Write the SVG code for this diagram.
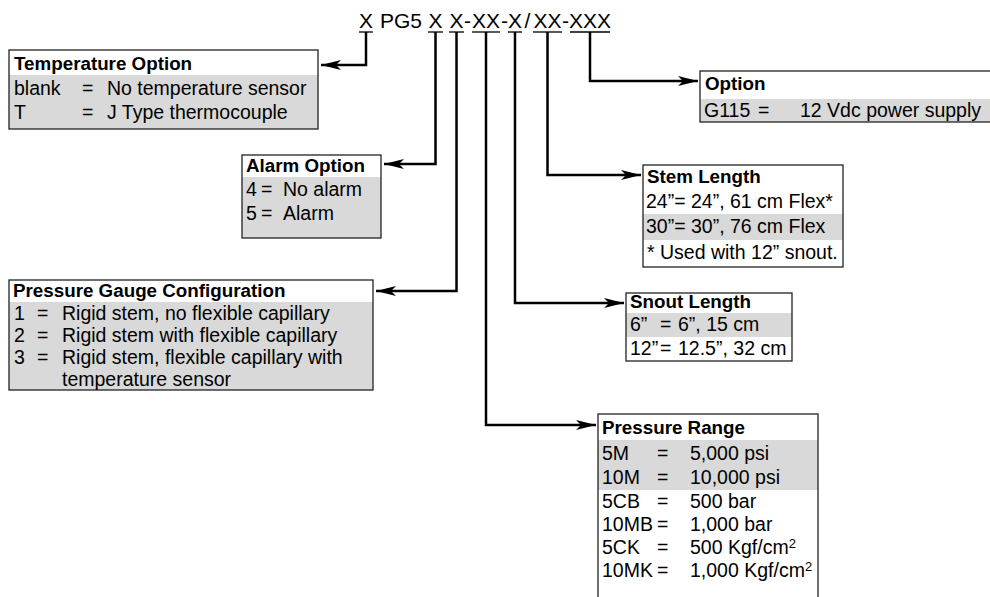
<svg xmlns="http://www.w3.org/2000/svg" width="990" height="597" viewBox="0 0 990 597">
<defs>
<marker id="ah" viewBox="0 0 20 10" markerWidth="20" markerHeight="10" refX="20" refY="5" orient="auto" markerUnits="userSpaceOnUse"><path d="M0,0 L20,5 L0,10 L5,5 z" fill="#000"/></marker>
</defs>
<style>
text{font-family:"Liberation Sans",Arial,sans-serif;font-size:19.5px;fill:#000}
.h{font-weight:bold;font-size:18.8px}
.t{font-size:21px}
.bg{fill:#fff}
.g{fill:#d9d9d9}
.bd{fill:none;stroke:#222;stroke-width:1.3}
.c{fill:none;stroke:#000;stroke-width:2.5;marker-end:url(#ah)}
.u{stroke:#000;stroke-width:1.3}
.sup{font-size:13px}
</style>
<g id="code">
<text class="t" y="28" text-anchor="middle"><tspan x="366">X</tspan></text>
<text class="t" x="380" y="28">PG5</text>
<text class="t" y="28" text-anchor="middle"><tspan x="435.5">X</tspan><tspan x="456.5">X</tspan><tspan x="467.5">-</tspan><tspan x="486">XX</tspan><tspan x="504.5">-</tspan><tspan x="515">X</tspan><tspan x="527.5">/</tspan><tspan x="547.5">XX</tspan><tspan x="565.5">-</tspan><tspan x="590">XXX</tspan></text>
<line class="u" x1="359" y1="32" x2="373" y2="32"/>
<line class="u" x1="428" y1="32" x2="443" y2="32"/>
<line class="u" x1="449" y1="32" x2="464" y2="32"/>
<line class="u" x1="472" y1="32" x2="500" y2="32"/>
<line class="u" x1="508" y1="32" x2="522" y2="32"/>
<line class="u" x1="533" y1="32" x2="562" y2="32"/>
<line class="u" x1="570" y1="32" x2="610" y2="32"/>
</g>
<g id="connectors">
<path class="c" d="M366,32 V65 H321"/>
<path class="c" d="M435.5,32 V164 H384"/>
<path class="c" d="M456.5,32 V291 H376"/>
<path class="c" d="M486,32 V425 H596"/>
<path class="c" d="M515,32 V303 H624"/>
<path class="c" d="M547.5,32 V175 H641"/>
<path class="c" d="M590,32 V81 H698"/>
</g>
<g id="temperature-option">
<rect class="bg" x="9" y="50" width="309" height="79"/>
<rect class="g" x="9" y="75" width="309" height="54"/>
<rect class="bd" x="9" y="50" width="309" height="79"/>
<text class="h" x="14" y="70">Temperature Option</text>
<text x="14" y="95">blank</text><text x="82" y="95">=</text><text x="107" y="95">No temperature sensor</text>
<text x="14" y="119">T</text><text x="82" y="119">=</text><text x="107" y="119">J Type thermocouple</text>
</g>
<g id="alarm-option">
<rect class="bg" x="242" y="155" width="139" height="83"/>
<rect class="g" x="242" y="177" width="139" height="61"/>
<rect class="bd" x="242" y="155" width="139" height="83"/>
<text class="h" x="246" y="172">Alarm Option</text>
<text x="246" y="196">4</text><text x="261" y="196">=</text><text x="283" y="196">No alarm</text>
<text x="246" y="220">5</text><text x="261" y="220">=</text><text x="283" y="220">Alarm</text>
</g>
<g id="pressure-gauge-configuration">
<rect class="bg" x="9" y="280" width="364" height="110"/>
<rect class="g" x="9" y="302" width="364" height="88"/>
<rect class="bd" x="9" y="280" width="364" height="110"/>
<text class="h" x="13" y="297">Pressure Gauge Configuration</text>
<text x="14" y="320">1</text><text x="37" y="320">=</text><text x="62" y="320">Rigid stem, no flexible capillary</text>
<text x="14" y="342">2</text><text x="37" y="342">=</text><text x="62" y="342">Rigid stem with flexible capillary</text>
<text x="14" y="364">3</text><text x="37" y="364">=</text><text x="62" y="364">Rigid stem, flexible capillary with</text>
<text x="62" y="386">temperature sensor</text>
</g>
<g id="option">
<rect class="bg" x="700" y="71" width="300" height="51"/>
<rect class="g" x="700" y="99" width="300" height="23"/>
<rect class="bd" x="700" y="71" width="300" height="51"/>
<text class="h" x="705" y="90">Option</text>
<text x="704" y="117">G115</text><text x="758" y="117">=</text><text x="800" y="117">12 Vdc power supply</text>
</g>
<g id="stem-length">
<rect class="bg" x="643" y="165" width="200" height="102"/>
<rect class="g" x="643" y="214" width="200" height="26"/>
<rect class="bd" x="643" y="165" width="200" height="102"/>
<text class="h" x="647" y="183">Stem Length</text>
<text x="646" y="208">24”= 24”, 61 cm Flex*</text>
<text x="646" y="233">30”= 30”, 76 cm Flex</text>
<text x="647" y="259">* Used with 12” snout.</text>
</g>
<g id="snout-length">
<rect class="bg" x="626" y="293" width="166" height="68"/>
<rect class="g" x="626" y="313" width="166" height="24"/>
<rect class="bd" x="626" y="293" width="166" height="68"/>
<text class="h" x="630" y="308">Snout Length</text>
<text x="630" y="331">6”</text><text x="660" y="331">=</text><text x="678" y="331">6”, 15 cm</text>
<text x="630" y="355">12”</text><text x="660" y="355">=</text><text x="678" y="355">12.5”, 32 cm</text>
</g>
<g id="pressure-range">
<rect class="bg" x="598" y="414" width="220" height="190"/>
<rect class="g" x="598" y="440" width="220" height="50"/>
<rect class="bd" x="598" y="414" width="220" height="190"/>
<text class="h" x="602" y="434">Pressure Range</text>
<text x="602" y="460">5M</text><text x="657" y="460">=</text><text x="690" y="460">5,000 psi</text>
<text x="602" y="484">10M</text><text x="657" y="484">=</text><text x="690" y="484">10,000 psi</text>
<text x="602" y="508">5CB</text><text x="657" y="508">=</text><text x="690" y="508">500 bar</text>
<text x="602" y="531">10MB</text><text x="657" y="531">=</text><text x="690" y="531">1,000 bar</text>
<text x="602" y="554">5CK</text><text x="657" y="554">=</text><text x="690" y="554">500 Kgf/cm<tspan class="sup" dy="-6">2</tspan></text>
<text x="602" y="577">10MK</text><text x="657" y="577">=</text><text x="690" y="577">1,000 Kgf/cm<tspan class="sup" dy="-6">2</tspan></text>
</g>
</svg>
